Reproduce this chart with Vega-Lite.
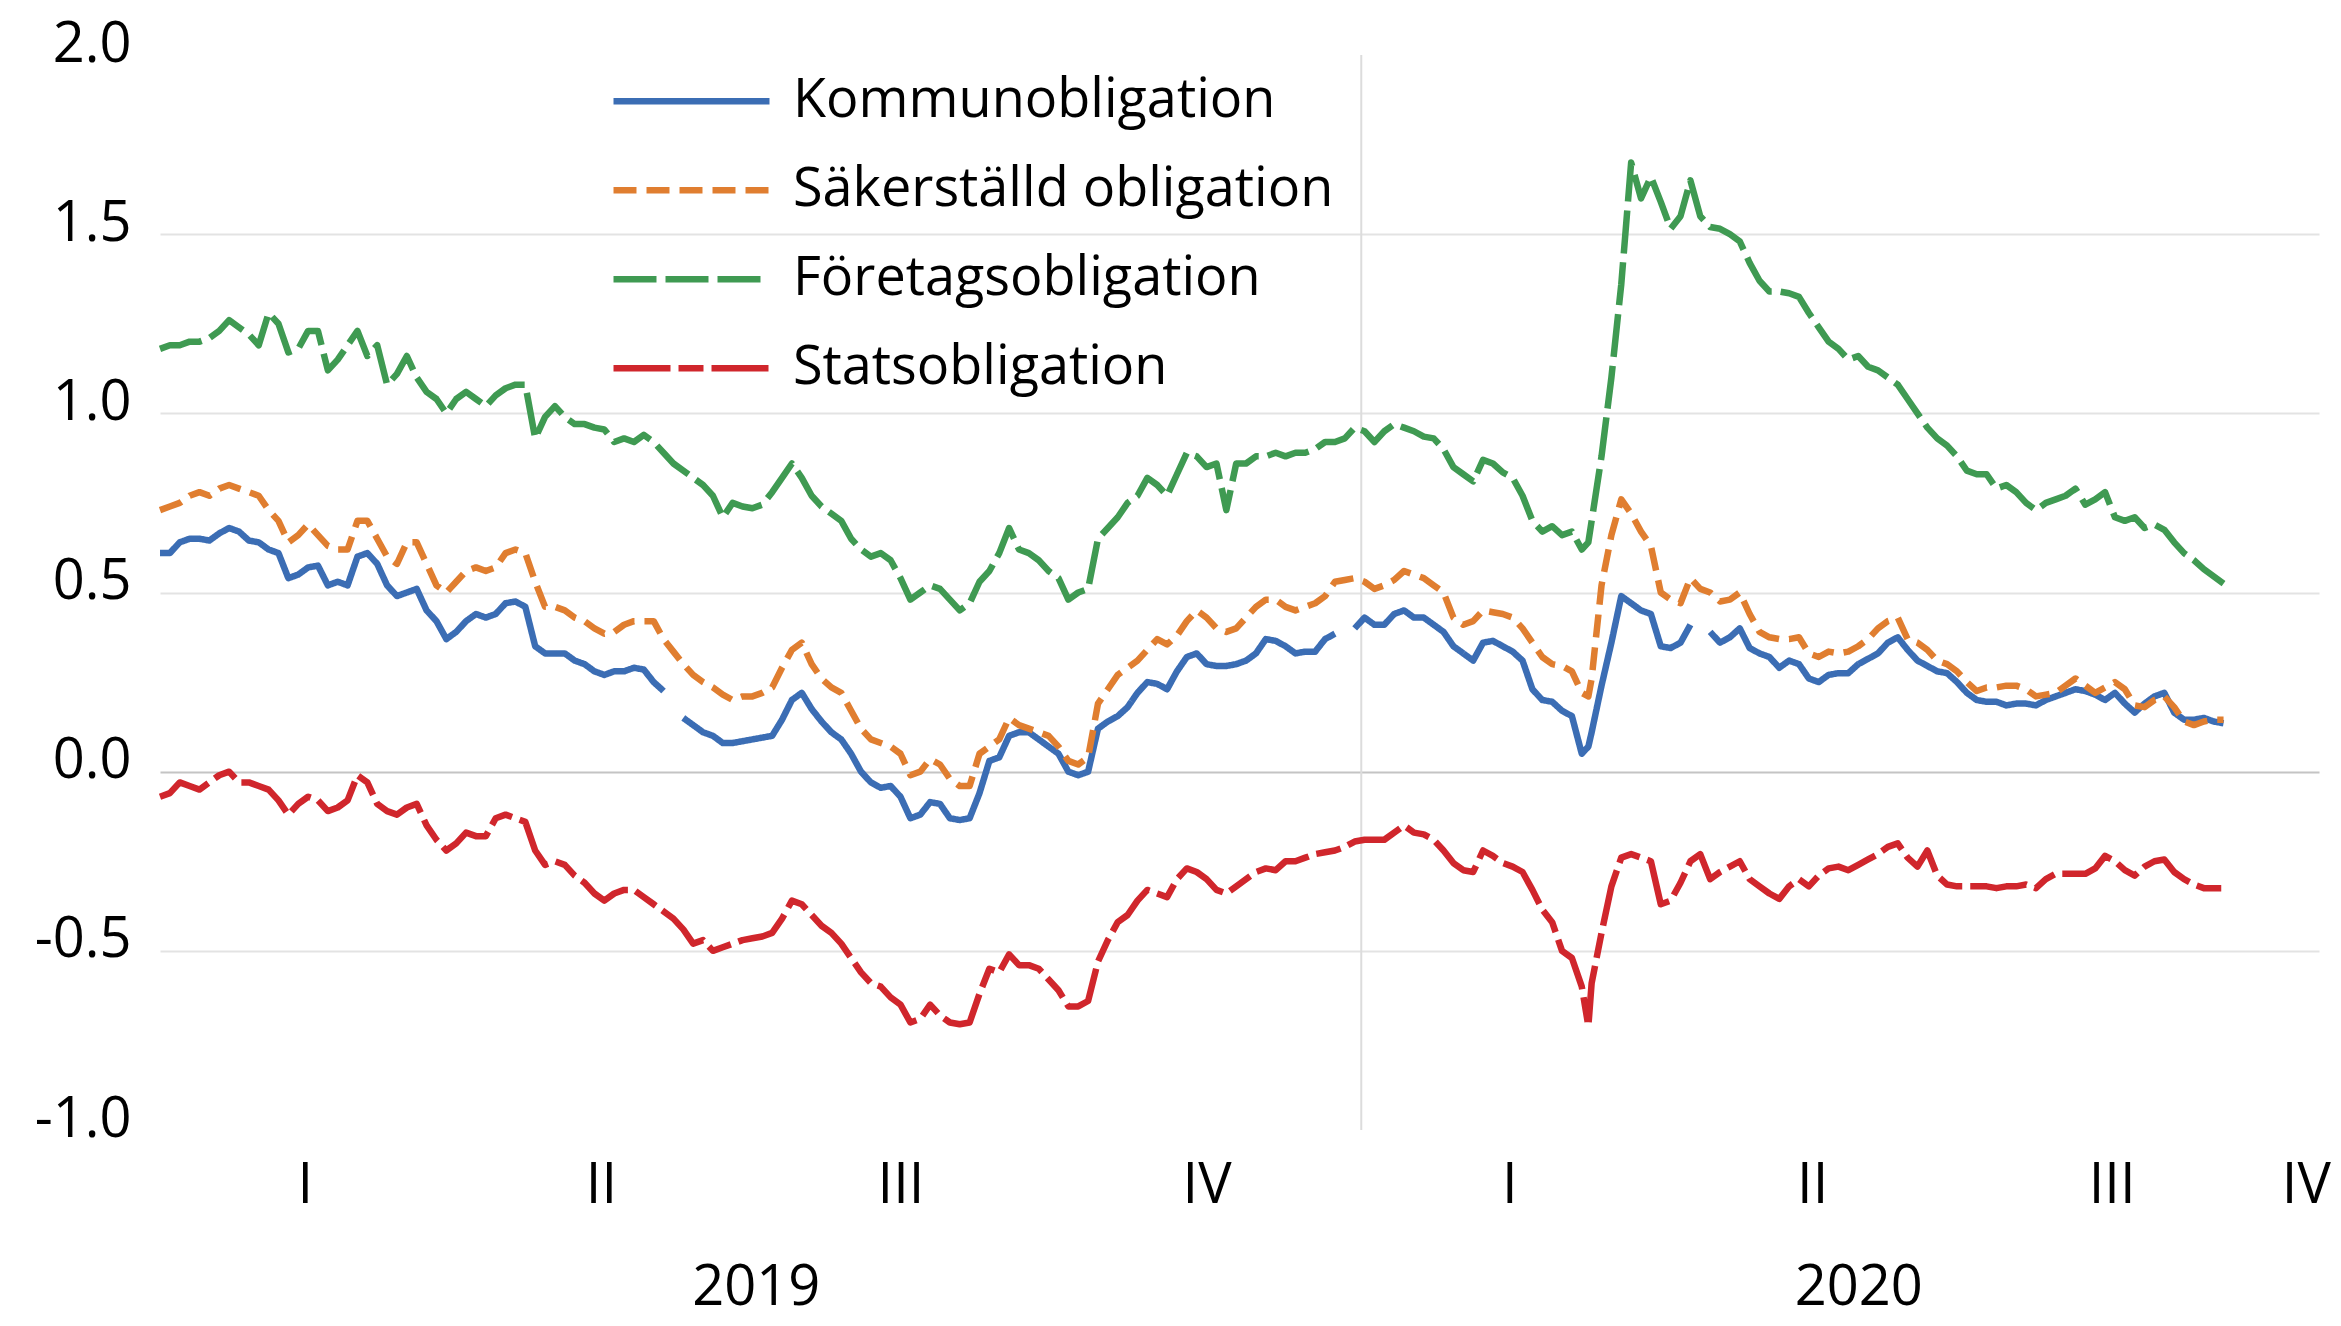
{
"$schema": "https://vega.github.io/schema/vega-lite/v6.json",
"width": 2159, "height": 1075,
"autosize": {"type": "none"},
"padding": {"left": 160, "top": 55, "right": 22, "bottom": 196},
"background": "white",
"config": {"view": {"stroke": null}, "font": "Open Sans"},
"data": {"values": [
{"t":"2019-01-01","K":0.61,"S":0.73,"F":1.18,"G":-0.07},
{"t":"2019-01-04","K":0.61,"S":0.74,"F":1.19,"G":-0.06},
{"t":"2019-01-07","K":0.64,"S":0.75,"F":1.19,"G":-0.03},
{"t":"2019-01-10","K":0.65,"S":0.77,"F":1.20,"G":-0.04},
{"t":"2019-01-13","K":0.65,"S":0.78,"F":1.20,"G":-0.05},
{"t":"2019-01-16","K":0.645,"S":0.77,"F":1.21,"G":-0.03},
{"t":"2019-01-19","K":0.665,"S":0.79,"F":1.23,"G":-0.01},
{"t":"2019-01-22","K":0.68,"S":0.80,"F":1.26,"G":0.0},
{"t":"2019-01-25","K":0.67,"S":0.79,"F":1.24,"G":-0.03},
{"t":"2019-01-28","K":0.645,"S":0.78,"F":1.22,"G":-0.03},
{"t":"2019-01-31","K":0.64,"S":0.77,"F":1.19,"G":-0.04},
{"t":"2019-02-03","K":0.62,"S":0.73,"F":1.28,"G":-0.05},
{"t":"2019-02-06","K":0.61,"S":0.70,"F":1.25,"G":-0.08},
{"t":"2019-02-09","K":0.54,"S":0.64,"F":1.17,"G":-0.12},
{"t":"2019-02-12","K":0.55,"S":0.66,"F":1.18,"G":-0.09},
{"t":"2019-02-15","K":0.57,"S":0.69,"F":1.23,"G":-0.07},
{"t":"2019-02-18","K":0.575,"S":0.66,"F":1.23,"G":-0.08},
{"t":"2019-02-21","K":0.52,"S":0.63,"F":1.12,"G":-0.11},
{"t":"2019-02-24","K":0.53,"S":0.62,"F":1.15,"G":-0.10},
{"t":"2019-02-27","K":0.52,"S":0.62,"F":1.19,"G":-0.08},
{"t":"2019-03-02","K":0.60,"S":0.70,"F":1.23,"G":-0.01},
{"t":"2019-03-05","K":0.61,"S":0.70,"F":1.16,"G":-0.03},
{"t":"2019-03-08","K":0.58,"S":0.65,"F":1.19,"G":-0.09},
{"t":"2019-03-11","K":0.52,"S":0.60,"F":1.08,"G":-0.11},
{"t":"2019-03-14","K":0.49,"S":0.58,"F":1.11,"G":-0.12},
{"t":"2019-03-17","K":0.50,"S":0.64,"F":1.16,"G":-0.10},
{"t":"2019-03-20","K":0.51,"S":0.64,"F":1.10,"G":-0.09},
{"t":"2019-03-23","K":0.45,"S":0.58,"F":1.06,"G":-0.15},
{"t":"2019-03-26","K":0.42,"S":0.52,"F":1.04,"G":-0.19},
{"t":"2019-03-29","K":0.37,"S":0.50,"F":1.00,"G":-0.22},
{"t":"2019-04-01","K":0.39,"S":0.53,"F":1.04,"G":-0.20},
{"t":"2019-04-04","K":0.42,"S":0.56,"F":1.06,"G":-0.17},
{"t":"2019-04-07","K":0.44,"S":0.57,"F":1.04,"G":-0.18},
{"t":"2019-04-10","K":0.43,"S":0.56,"F":1.02,"G":-0.18},
{"t":"2019-04-13","K":0.44,"S":0.57,"F":1.05,"G":-0.13},
{"t":"2019-04-16","K":0.47,"S":0.61,"F":1.07,"G":-0.12},
{"t":"2019-04-19","K":0.475,"S":0.62,"F":1.08,"G":-0.13},
{"t":"2019-04-22","K":0.46,"S":0.61,"F":1.08,"G":-0.14},
{"t":"2019-04-25","K":0.35,"S":0.53,"F":0.93,"G":-0.22},
{"t":"2019-04-28","K":0.33,"S":0.46,"F":0.99,"G":-0.26},
{"t":"2019-05-01","K":0.33,"S":0.46,"F":1.02,"G":-0.25},
{"t":"2019-05-04","K":0.33,"S":0.45,"F":0.99,"G":-0.26},
{"t":"2019-05-07","K":0.31,"S":0.43,"F":0.97,"G":-0.29},
{"t":"2019-05-10","K":0.30,"S":0.42,"F":0.97,"G":-0.31},
{"t":"2019-05-13","K":0.28,"S":0.40,"F":0.96,"G":-0.34},
{"t":"2019-05-16","K":0.27,"S":0.385,"F":0.955,"G":-0.36},
{"t":"2019-05-19","K":0.28,"S":0.39,"F":0.92,"G":-0.34},
{"t":"2019-05-22","K":0.28,"S":0.41,"F":0.93,"G":-0.33},
{"t":"2019-05-25","K":0.29,"S":0.42,"F":0.92,"G":-0.33},
{"t":"2019-05-28","K":0.285,"S":0.42,"F":0.94,"G":-0.35},
{"t":"2019-05-31","K":0.25,"S":0.42,"F":0.92,"G":-0.37},
{"t":"2019-06-03","K":0.225,"S":0.37,"F":0.89,"G":-0.39},
{"t":"2019-06-06","K":null,"S":0.335,"F":0.86,"G":-0.41},
{"t":"2019-06-09","K":0.15,"S":0.30,"F":0.84,"G":-0.44},
{"t":"2019-06-12","K":0.13,"S":0.27,"F":0.82,"G":-0.48},
{"t":"2019-06-15","K":0.11,"S":0.25,"F":0.80,"G":-0.47},
{"t":"2019-06-18","K":0.10,"S":0.235,"F":0.77,"G":-0.50},
{"t":"2019-06-21","K":0.08,"S":0.215,"F":0.71,"G":-0.49},
{"t":"2019-06-24","K":0.08,"S":0.20,"F":0.75,"G":-0.48},
{"t":"2019-06-27","K":0.085,"S":0.21,"F":0.74,"G":-0.47},
{"t":"2019-06-30","K":0.09,"S":0.21,"F":0.735,"G":-0.465},
{"t":"2019-07-03","K":0.095,"S":0.22,"F":0.745,"G":-0.46},
{"t":"2019-07-06","K":0.10,"S":0.235,"F":0.78,"G":-0.45},
{"t":"2019-07-09","K":0.145,"S":0.29,"F":0.82,"G":-0.41},
{"t":"2019-07-12","K":0.20,"S":0.34,"F":0.86,"G":-0.36},
{"t":"2019-07-15","K":0.22,"S":0.36,"F":0.82,"G":-0.37},
{"t":"2019-07-18","K":0.175,"S":0.30,"F":0.77,"G":-0.40},
{"t":"2019-07-21","K":0.14,"S":0.26,"F":0.74,"G":-0.43},
{"t":"2019-07-24","K":0.11,"S":0.235,"F":0.72,"G":-0.45},
{"t":"2019-07-27","K":0.09,"S":0.22,"F":0.70,"G":-0.48},
{"t":"2019-07-30","K":0.05,"S":0.17,"F":0.65,"G":-0.52},
{"t":"2019-08-02","K":0.00,"S":0.12,"F":0.62,"G":-0.56},
{"t":"2019-08-05","K":-0.03,"S":0.09,"F":0.60,"G":-0.59},
{"t":"2019-08-08","K":-0.045,"S":0.08,"F":0.61,"G":-0.60},
{"t":"2019-08-11","K":-0.04,"S":0.07,"F":0.59,"G":-0.63},
{"t":"2019-08-14","K":-0.07,"S":0.05,"F":0.54,"G":-0.65},
{"t":"2019-08-17","K":-0.13,"S":-0.01,"F":0.48,"G":-0.70},
{"t":"2019-08-20","K":-0.12,"S":0.0,"F":0.50,"G":-0.69},
{"t":"2019-08-23","K":-0.085,"S":0.035,"F":0.52,"G":-0.65},
{"t":"2019-08-26","K":-0.09,"S":0.02,"F":0.51,"G":-0.68},
{"t":"2019-08-29","K":-0.13,"S":-0.02,"F":0.48,"G":-0.70},
{"t":"2019-09-01","K":-0.135,"S":-0.04,"F":0.45,"G":-0.705},
{"t":"2019-09-04","K":-0.13,"S":-0.04,"F":0.47,"G":-0.70},
{"t":"2019-09-07","K":-0.06,"S":0.05,"F":0.53,"G":-0.62},
{"t":"2019-09-10","K":0.03,"S":0.07,"F":0.56,"G":-0.55},
{"t":"2019-09-13","K":0.04,"S":0.09,"F":0.61,"G":-0.56},
{"t":"2019-09-16","K":0.10,"S":0.15,"F":0.68,"G":-0.51},
{"t":"2019-09-19","K":0.11,"S":0.13,"F":0.62,"G":-0.54},
{"t":"2019-09-22","K":0.11,"S":0.12,"F":0.61,"G":-0.54},
{"t":"2019-09-25","K":0.09,"S":0.11,"F":0.59,"G":-0.55},
{"t":"2019-09-28","K":0.07,"S":0.10,"F":0.56,"G":-0.58},
{"t":"2019-10-01","K":0.05,"S":0.07,"F":0.54,"G":-0.61},
{"t":"2019-10-04","K":0.00,"S":0.03,"F":0.48,"G":-0.655},
{"t":"2019-10-07","K":-0.01,"S":0.02,"F":0.50,"G":-0.655},
{"t":"2019-10-10","K":0.00,"S":0.04,"F":0.51,"G":-0.64},
{"t":"2019-10-13","K":0.12,"S":0.19,"F":0.65,"G":-0.53},
{"t":"2019-10-16","K":0.14,"S":0.23,"F":0.68,"G":-0.47},
{"t":"2019-10-19","K":0.155,"S":0.27,"F":0.71,"G":-0.42},
{"t":"2019-10-22","K":0.18,"S":0.29,"F":0.75,"G":-0.40},
{"t":"2019-10-25","K":0.22,"S":0.31,"F":0.77,"G":-0.36},
{"t":"2019-10-28","K":0.25,"S":0.34,"F":0.82,"G":-0.33},
{"t":"2019-10-31","K":0.245,"S":0.37,"F":0.80,"G":-0.34},
{"t":"2019-11-03","K":0.23,"S":0.355,"F":0.77,"G":-0.35},
{"t":"2019-11-06","K":0.28,"S":0.38,"F":0.83,"G":-0.30},
{"t":"2019-11-09","K":0.32,"S":0.42,"F":0.89,"G":-0.27},
{"t":"2019-11-12","K":0.33,"S":0.45,"F":0.88,"G":-0.28},
{"t":"2019-11-15","K":0.30,"S":0.43,"F":0.85,"G":-0.30},
{"t":"2019-11-18","K":0.295,"S":0.40,"F":0.86,"G":-0.33},
{"t":"2019-11-21","K":0.295,"S":0.39,"F":0.73,"G":-0.34},
{"t":"2019-11-24","K":0.30,"S":0.40,"F":0.86,"G":-0.32},
{"t":"2019-11-27","K":0.31,"S":0.43,"F":0.86,"G":-0.30},
{"t":"2019-11-30","K":0.33,"S":0.46,"F":0.88,"G":-0.28},
{"t":"2019-12-03","K":0.37,"S":0.48,"F":0.88,"G":-0.27},
{"t":"2019-12-06","K":0.365,"S":0.48,"F":0.89,"G":-0.275},
{"t":"2019-12-09","K":0.35,"S":0.46,"F":0.88,"G":-0.25},
{"t":"2019-12-12","K":0.33,"S":0.45,"F":0.89,"G":-0.25},
{"t":"2019-12-15","K":0.335,"S":0.46,"F":0.89,"G":-0.24},
{"t":"2019-12-18","K":0.335,"S":0.47,"F":0.90,"G":-0.23},
{"t":"2019-12-21","K":0.37,"S":0.49,"F":0.92,"G":-0.225},
{"t":"2019-12-24","K":0.385,"S":0.53,"F":0.92,"G":-0.22},
{"t":"2019-12-27","K":null,"S":0.535,"F":0.93,"G":-0.21},
{"t":"2019-12-30","K":0.40,"S":0.54,"F":0.96,"G":-0.195},
{"t":"2020-01-02","K":0.43,"S":0.53,"F":0.95,"G":-0.19},
{"t":"2020-01-05","K":0.41,"S":0.51,"F":0.92,"G":-0.19},
{"t":"2020-01-08","K":0.41,"S":0.52,"F":0.95,"G":-0.19},
{"t":"2020-01-11","K":0.44,"S":0.535,"F":0.97,"G":-0.17},
{"t":"2020-01-14","K":0.45,"S":0.56,"F":0.96,"G":-0.15},
{"t":"2020-01-17","K":0.43,"S":0.55,"F":0.95,"G":-0.17},
{"t":"2020-01-20","K":0.43,"S":0.54,"F":0.935,"G":-0.175},
{"t":"2020-01-23","K":0.41,"S":0.52,"F":0.93,"G":-0.19},
{"t":"2020-01-26","K":0.39,"S":0.50,"F":0.90,"G":-0.22},
{"t":"2020-01-29","K":0.35,"S":0.43,"F":0.85,"G":-0.255},
{"t":"2020-02-01","K":0.33,"S":0.41,"F":0.83,"G":-0.275},
{"t":"2020-02-04","K":0.31,"S":0.42,"F":0.81,"G":-0.28},
{"t":"2020-02-07","K":0.36,"S":0.45,"F":0.87,"G":-0.22},
{"t":"2020-02-10","K":0.365,"S":0.445,"F":0.86,"G":-0.235},
{"t":"2020-02-13","K":0.35,"S":0.44,"F":0.835,"G":-0.255},
{"t":"2020-02-16","K":0.335,"S":0.43,"F":0.82,"G":-0.265},
{"t":"2020-02-19","K":0.31,"S":0.40,"F":0.77,"G":-0.28},
{"t":"2020-02-22","K":0.23,"S":0.36,"F":0.70,"G":-0.33},
{"t":"2020-02-25","K":0.20,"S":0.32,"F":0.67,"G":-0.385},
{"t":"2020-02-28","K":0.195,"S":0.30,"F":0.685,"G":-0.42},
{"t":"2020-03-02","K":0.17,"S":0.295,"F":0.66,"G":-0.50},
{"t":"2020-03-05","K":0.155,"S":0.28,"F":0.67,"G":-0.52},
{"t":"2020-03-08","K":0.05,"S":0.22,"F":0.62,"G":-0.60},
{"t":"2020-03-10","K":0.07,"S":0.21,"F":0.64,"G":-0.71},
{"t":"2020-03-11","K":0.11,"S":0.26,"F":0.70,"G":-0.59},
{"t":"2020-03-14","K":0.24,"S":0.52,"F":0.88,"G":-0.45},
{"t":"2020-03-17","K":0.36,"S":0.66,"F":1.10,"G":-0.32},
{"t":"2020-03-20","K":0.49,"S":0.76,"F":1.36,"G":-0.24},
{"t":"2020-03-23","K":0.47,"S":0.72,"F":1.70,"G":-0.23},
{"t":"2020-03-26","K":0.45,"S":0.67,"F":1.60,"G":-0.24},
{"t":"2020-03-29","K":0.44,"S":0.63,"F":1.66,"G":-0.25},
{"t":"2020-04-01","K":0.35,"S":0.50,"F":1.59,"G":-0.37},
{"t":"2020-04-04","K":0.345,"S":0.48,"F":1.515,"G":-0.36},
{"t":"2020-04-07","K":0.36,"S":0.47,"F":1.55,"G":-0.31},
{"t":"2020-04-10","K":0.41,"S":0.54,"F":1.65,"G":-0.25},
{"t":"2020-04-13","K":null,"S":0.51,"F":1.55,"G":-0.23},
{"t":"2020-04-16","K":0.39,"S":0.50,"F":1.52,"G":-0.30},
{"t":"2020-04-19","K":0.36,"S":0.475,"F":1.515,"G":-0.28},
{"t":"2020-04-22","K":0.375,"S":0.48,"F":1.50,"G":-0.265},
{"t":"2020-04-25","K":0.40,"S":0.50,"F":1.48,"G":-0.25},
{"t":"2020-04-28","K":0.345,"S":0.44,"F":1.42,"G":-0.30},
{"t":"2020-05-01","K":0.33,"S":0.39,"F":1.37,"G":-0.32},
{"t":"2020-05-04","K":0.32,"S":0.375,"F":1.34,"G":-0.34},
{"t":"2020-05-07","K":0.29,"S":0.37,"F":1.34,"G":-0.355},
{"t":"2020-05-10","K":0.31,"S":0.37,"F":1.335,"G":-0.32},
{"t":"2020-05-13","K":0.30,"S":0.375,"F":1.325,"G":-0.30},
{"t":"2020-05-16","K":0.26,"S":0.33,"F":1.28,"G":-0.32},
{"t":"2020-05-19","K":0.25,"S":0.32,"F":1.24,"G":-0.29},
{"t":"2020-05-22","K":0.27,"S":0.335,"F":1.20,"G":-0.27},
{"t":"2020-05-25","K":0.275,"S":0.33,"F":1.18,"G":-0.265},
{"t":"2020-05-28","K":0.275,"S":0.335,"F":1.15,"G":-0.275},
{"t":"2020-05-31","K":0.30,"S":0.35,"F":1.16,"G":-0.26},
{"t":"2020-06-03","K":0.315,"S":0.37,"F":1.13,"G":-0.245},
{"t":"2020-06-06","K":0.33,"S":0.40,"F":1.12,"G":-0.23},
{"t":"2020-06-09","K":0.36,"S":0.42,"F":1.10,"G":-0.21},
{"t":"2020-06-12","K":0.375,"S":0.43,"F":1.08,"G":-0.20},
{"t":"2020-06-15","K":0.34,"S":0.37,"F":1.04,"G":-0.24},
{"t":"2020-06-18","K":0.31,"S":0.36,"F":1.00,"G":-0.265},
{"t":"2020-06-21","K":0.295,"S":0.34,"F":0.96,"G":-0.22},
{"t":"2020-06-24","K":0.28,"S":0.31,"F":0.93,"G":-0.29},
{"t":"2020-06-27","K":0.275,"S":0.30,"F":0.91,"G":-0.315},
{"t":"2020-06-30","K":0.25,"S":0.28,"F":0.88,"G":-0.32},
{"t":"2020-07-03","K":0.22,"S":0.25,"F":0.84,"G":-0.32},
{"t":"2020-07-06","K":0.20,"S":0.225,"F":0.83,"G":-0.32},
{"t":"2020-07-09","K":0.195,"S":0.235,"F":0.83,"G":-0.32},
{"t":"2020-07-12","K":0.195,"S":0.235,"F":0.79,"G":-0.325},
{"t":"2020-07-15","K":0.185,"S":0.24,"F":0.80,"G":-0.32},
{"t":"2020-07-18","K":0.19,"S":0.24,"F":0.78,"G":-0.32},
{"t":"2020-07-21","K":0.19,"S":0.23,"F":0.75,"G":-0.315},
{"t":"2020-07-24","K":0.185,"S":0.21,"F":0.73,"G":-0.325},
{"t":"2020-07-27","K":0.20,"S":0.215,"F":0.75,"G":-0.30},
{"t":"2020-07-30","K":0.21,"S":0.22,"F":0.76,"G":-0.285},
{"t":"2020-08-02","K":0.22,"S":0.24,"F":0.77,"G":-0.285},
{"t":"2020-08-05","K":0.23,"S":0.26,"F":0.79,"G":-0.285},
{"t":"2020-08-08","K":0.225,"S":0.24,"F":0.745,"G":-0.285},
{"t":"2020-08-11","K":0.215,"S":0.22,"F":0.76,"G":-0.27},
{"t":"2020-08-14","K":0.20,"S":0.235,"F":0.78,"G":-0.235},
{"t":"2020-08-17","K":0.22,"S":0.25,"F":0.71,"G":-0.25},
{"t":"2020-08-20","K":0.19,"S":0.23,"F":0.70,"G":-0.275},
{"t":"2020-08-23","K":0.165,"S":0.185,"F":0.71,"G":-0.29},
{"t":"2020-08-26","K":0.19,"S":0.18,"F":0.68,"G":-0.265},
{"t":"2020-08-29","K":0.21,"S":0.20,"F":0.69,"G":-0.25},
{"t":"2020-09-01","K":0.22,"S":0.21,"F":0.675,"G":-0.245},
{"t":"2020-09-04","K":0.165,"S":0.18,"F":0.64,"G":-0.28},
{"t":"2020-09-07","K":0.145,"S":0.14,"F":0.61,"G":-0.30},
{"t":"2020-09-10","K":0.145,"S":0.13,"F":0.59,"G":-0.315},
{"t":"2020-09-13","K":0.15,"S":0.14,"F":0.565,"G":-0.325},
{"t":"2020-09-16","K":0.14,"S":0.145,"F":0.545,"G":-0.325},
{"t":"2020-09-19","K":0.135,"S":0.145,"F":0.525,"G":-0.325}
]},
"layer": [
{
"data": {"values": [{"t": "2020-01-01"}]},
"mark": {"type": "rule", "color": "#dcdcdc", "strokeWidth": 2},
"encoding": {
"x": {"field": "t", "type": "temporal",
"scale": {"domain": [{"year": 2019, "month": 1, "date": 1, "utc": true}, {"year": 2020, "month": 10, "date": 18, "utc": true}], "nice": false},
"axis": {"orient": "bottom", "values": [{"year": 2019, "month": 7, "date": 1, "utc": true}, {"year": 2020, "month": 5, "date": 31, "utc": true}],
"labelExpr": "'' + utcyear(datum.value)", "domain": false, "ticks": false, "tickSize": 0, "grid": false,
"labelPadding": 130, "labelFont": "Open Sans", "labelFontSize": 56, "labelColor": "black",
"labelFlush": false, "labelOverlap": false, "labelBound": false, "title": null}}
}
},
{
"transform": [{"fold": ["K", "S", "F", "G"], "as": ["k", "v"]}],
"mark": {"type": "line", "strokeWidth": 6.5, "strokeCap": "butt", "strokeJoin": "round"},
"encoding": {
"x": {"field": "t", "type": "temporal",
"scale": {"domain": [{"year": 2019, "month": 1, "date": 1, "utc": true}, {"year": 2020, "month": 10, "date": 18, "utc": true}], "nice": false},
"axis": {"orient": "bottom",
"values": [{"year": 2019, "month": 2, "date": 14, "utc": true}, {"year": 2019, "month": 5, "date": 15, "utc": true}, {"year": 2019, "month": 8, "date": 14, "utc": true}, {"year": 2019, "month": 11, "date": 15, "utc": true}, {"year": 2020, "month": 2, "date": 15, "utc": true}, {"year": 2020, "month": 5, "date": 17, "utc": true}, {"year": 2020, "month": 8, "date": 16, "utc": true}, {"year": 2020, "month": 10, "date": 14, "utc": true}],
"labelExpr": "['I','II','III','IV'][floor(utcmonth(datum.value) / 3)]",
"domain": false, "ticks": false, "tickSize": 0, "grid": false,
"labelPadding": 28, "labelFont": "Open Sans", "labelFontSize": 56, "labelColor": "black",
"labelFlush": false, "labelOverlap": false, "labelBound": false, "title": null}},
"y": {"field": "v", "type": "quantitative",
"scale": {"domain": [-1, 2], "nice": false, "zero": false},
"axis": {"values": [-1, -0.5, 0, 0.5, 1, 1.5, 2],
"labelExpr": "datum.value < 0 ? '-' + format(-datum.value, '.1f') : format(datum.value, '.1f')",
"domain": false, "ticks": false, "tickSize": 0, "labelPadding": 29, "labelOffset": -11,
"labelFont": "Open Sans", "labelFontSize": 56, "labelColor": "black", "title": null,
"grid": true, "gridWidth": 2,
"gridColor": {"condition": {"test": "datum.value === 0", "value": "#c4c4c4"}, "value": "#e3e3e3"},
"gridOpacity": {"condition": {"test": "datum.value === 2 || datum.value === -1", "value": 0}, "value": 1}}},
"color": {"field": "k", "type": "nominal",
"scale": {"domain": ["K", "S", "F", "G"], "range": ["#3b6db4", "#e07e30", "#3f9a52", "#d0262c"]},
"legend": {"title": null, "orient": "none", "legendX": 450, "legendY": 2, "symbolType": "stroke", "symbolSize": 24336, "symbolStrokeWidth": 6.5,
"labelFont": "Open Sans", "labelFontSize": 54, "labelColor": "black", "labelOffset": 20, "labelLimit": 1000, "clipHeight": 88.5, "rowPadding": 0, "padding": 0,
"labelExpr": "{'K': 'Kommunobligation', 'S': 'Säkerställd obligation', 'F': 'Företagsobligation', 'G': 'Statsobligation'}[datum.label]"}},
"strokeDash": {"field": "k", "type": "nominal",
"scale": {"domain": ["K", "S", "F", "G"], "range": [[1, 0], [23, 10], [43, 9], [57, 8, 25, 8]]},
"legend": {"title": null, "orient": "none", "legendX": 450, "legendY": 2, "symbolType": "stroke", "symbolSize": 24336, "symbolStrokeWidth": 6.5,
"labelFont": "Open Sans", "labelFontSize": 54, "labelColor": "black", "labelOffset": 20, "labelLimit": 1000, "clipHeight": 88.5, "rowPadding": 0, "padding": 0,
"labelExpr": "{'K': 'Kommunobligation', 'S': 'Säkerställd obligation', 'F': 'Företagsobligation', 'G': 'Statsobligation'}[datum.label]"}}
}
}
],
"resolve": {"axis": {"x": "independent"}}
}
